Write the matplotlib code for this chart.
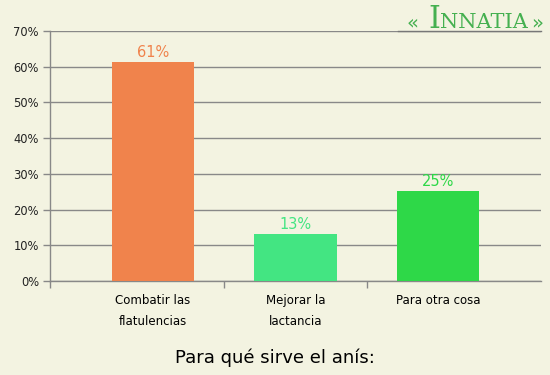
import matplotlib.pyplot as plt

categories = ["Combatir las\nflatulencias", "Mejorar la\nlactancia", "Para otra cosa"]
values = [61.4, 13.3, 25.3]
value_labels = ["61%", "13%", "25%"]
colors = ["#F0834C", "#43E582", "#2ED848"]
yticks = [0, 10, 20, 30, 40, 50, 60, 70]

bg = "#F3F3E1"
fig = plt.figure(figsize=(5.5, 3.75), dpi=100, facecolor=bg)
ax = fig.add_axes([50 / 550, 94 / 375, 491 / 550, 250 / 375], facecolor=bg)

x = range(len(categories))
ax.bar(x, values, width=0.575, color=colors, zorder=3)
for i, v in enumerate(values):
    ax.text(i, v + 0.4, value_labels[i], ha="center", va="bottom",
            fontsize=10.5, color=colors[i], zorder=4)

ax.set_xlim(-0.72, 2.72)
ax.set_ylim(0, 70)
ax.set_yticks(yticks)
ax.set_yticklabels([f"{t}%" for t in yticks], fontsize=8.3)
ax.yaxis.grid(True, color="#888888", linewidth=1.0, zorder=0)
ax.set_axisbelow(True)

# category ticks at the boundaries, labels under the bars
ax.set_xticks([-0.72, 0.5, 1.5])
ax.set_xticklabels([])
for i, c in enumerate(categories):
    ax.text(i, -3.6, c, ha="center", va="top", fontsize=8.5,
            linespacing=1.85, transform=ax.transData)

for s in ["top", "right"]:
    ax.spines[s].set_visible(False)
for s in ["left", "bottom"]:
    ax.spines[s].set_color("#888888")
    ax.spines[s].set_linewidth(1.0)
    ax.spines[s].set_zorder(2)
ax.tick_params(axis="both", colors="#888888", length=5, width=1.0, labelcolor="#222222")
ax.tick_params(axis="y", pad=3)

fig.text(0.5, 17 / 375, "Para qué sirve el anís:", ha="center", va="center", fontsize=13)

# logo
fig.text(428 / 550, 1 - 20 / 375, "I", ha="left", va="center",
         fontsize=22, color="#45B050", family="DejaVu Serif")
fig.text(440 / 550, 1 - 22 / 375, "NNATIA", ha="left", va="center",
         fontsize=15, color="#45B050", family="DejaVu Serif")
fig.add_artist(plt.Line2D([398 / 550, 541 / 550], [1 - 31 / 375, 1 - 31 / 375],
                          color="#777777", linewidth=1))
fig.text(413 / 550, 1 - 23 / 375, "«", ha="center", va="center", fontsize=14, color="#45B050")
fig.text(537 / 550, 1 - 23 / 375, "»", ha="center", va="center", fontsize=14, color="#45B050")

fig.savefig("out.png", dpi=100, facecolor=bg)
